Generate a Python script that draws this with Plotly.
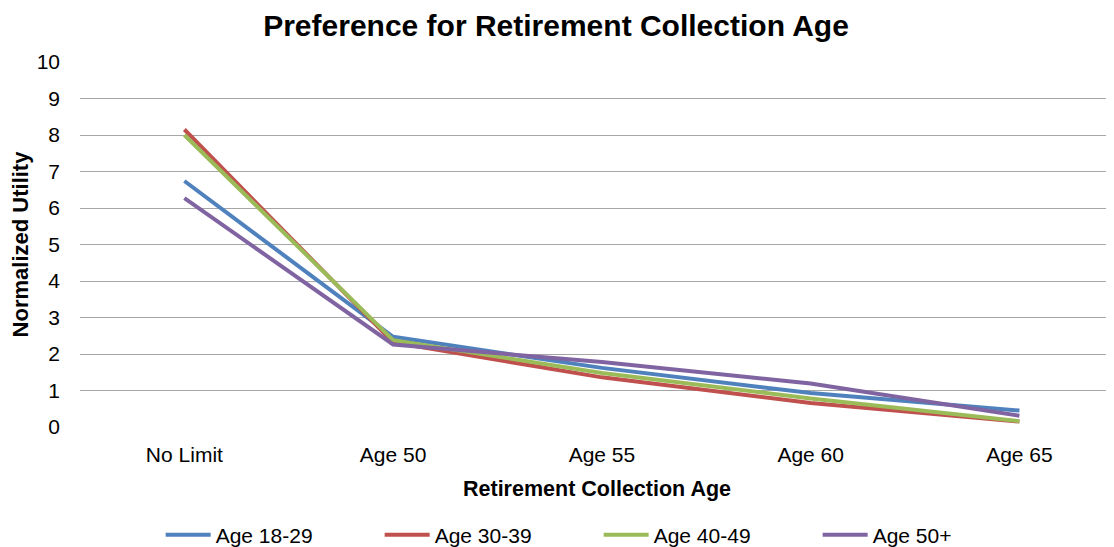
import plotly.graph_objects as go

categories = ["No Limit", "Age 50", "Age 55", "Age 60", "Age 65"]
age_18_29 = [6.74, 2.47, 1.62, 0.93, 0.45]
age_30_39 = [8.15, 2.32, 1.36, 0.66, 0.15]
age_40_49 = [8.0, 2.38, 1.48, 0.78, 0.16]
age_50_plus = [6.27, 2.26, 1.78, 1.19, 0.31]

series_names = ["Age 18-29", "Age 30-39", "Age 40-49", "Age 50+"]
series_values = [age_18_29, age_30_39, age_40_49, age_50_plus]
colors = ["#4F81BD", "#C0504D", "#9BBB59", "#8064A2"]
y_ticks = list(range(0, 11))

fig = go.Figure()
for name, vals, col in zip(series_names, series_values, colors):
    fig.add_trace(go.Scatter(
        x=categories, y=vals, name=name, mode="lines",
        line=dict(color=col, width=4),
    ))

font_family = "Liberation Sans, Arial, sans-serif"
fig.update_layout(
    width=1106, height=539,
    margin=dict(l=72, r=0, t=54, b=120, autoexpand=False),
    paper_bgcolor="white", plot_bgcolor="white",
    font=dict(family=font_family, size=21, color="black"),
    title=dict(text="<b>Preference for Retirement Collection Age</b>",
               x=0.4955, xref="container", xanchor="center", y=0.968, yanchor="middle",
               font=dict(size=30, family=font_family)),
    showlegend=True,
    legend=dict(orientation="h", x=0.078, xanchor="left", y=-0.296, yanchor="middle",
                entrywidth=159, entrywidthmode="pixels", itemwidth=45,
                font=dict(size=21), traceorder="normal"),
    xaxis=dict(range=[-0.5, 4.453], showgrid=False, zeroline=False,
               showline=False, ticks="", tickfont=dict(size=21), ticklabelstandoff=13,
               title=dict(text="<b>Retirement Collection Age</b>", font=dict(size=21.5), standoff=15)),
    yaxis=dict(range=[0, 10], tickvals=y_ticks, showgrid=True, gridcolor="#A6A6A6",
               gridwidth=1, zeroline=False, showline=False, ticks="",
               tickfont=dict(size=21), ticklabelstandoff=19,
               title=dict(text="<b>Normalized Utility</b>", font=dict(size=22), standoff=10)),
)

fig.write_html("out.html")
